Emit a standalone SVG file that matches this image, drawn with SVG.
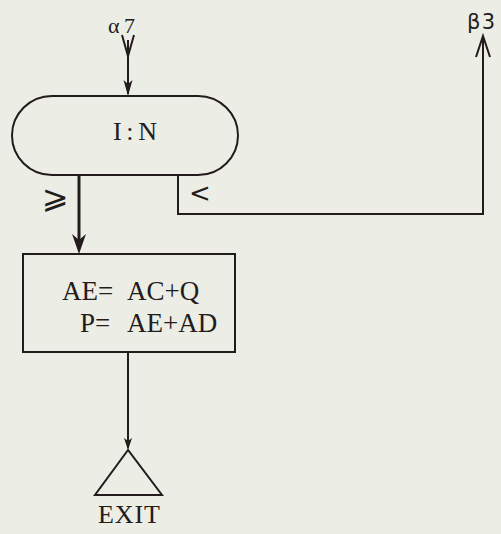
<svg xmlns="http://www.w3.org/2000/svg" width="501" height="534" viewBox="0 0 501 534">
<defs>
<style>
.ln{fill:none;stroke:#231c1c;stroke-width:2;stroke-linejoin:miter}
.ah{fill:#231c1c;stroke:none}
.t{font-family:"Liberation Serif","DejaVu Serif",serif;fill:#231c1c}
.h{font-family:"DejaVu Sans","Liberation Sans",sans-serif;fill:#231c1c}
</style>
</defs>
<rect x="0" y="0" width="501" height="534" fill="#ecede5"/>
<g id="connectors">
<path class="ln" d="M128,40 V94"/>
<path class="ln" d="M122,35 L128,56 L134,35"/>
<path class="ah" d="M123.5,80 L128,96 L132.5,80 L128,84 Z"/>
<path class="ln" d="M79,175 V240" style="stroke-width:3"/>
<path class="ah" d="M72,234 L79,254 L86,234 L79,240 Z"/>
<path class="ln" d="M178,175 V214 H483 V38"/>
<path class="ln" d="M476,57 L483,36 L490,57"/>
<path class="ln" d="M128,352 V448"/>
<path class="ah" d="M124,438 L128,450 L132,438 L128,441 Z"/>
</g>
<g id="entry-label">
<text class="t" x="108" y="33" font-size="22" textLength="27" lengthAdjust="spacing">α7</text>
</g>
<g id="exit-label">
<text class="h" x="467" y="29" font-size="21" textLength="28" lengthAdjust="spacing">β3</text>
</g>
<g id="decision">
<rect class="ln" x="12" y="96" width="226" height="79" rx="40" ry="39.5"/>
<text class="t" x="113" y="140" font-size="26" textLength="44" lengthAdjust="spacing">I:N</text>
</g>
<g id="cond-ge">
<text class="h" x="42" y="208" font-size="32">⩾</text>
</g>
<g id="cond-lt">
<text class="h" x="189" y="202" font-size="26">&lt;</text>
</g>
<g id="process">
<rect class="ln" x="23" y="254" width="212" height="98"/>
<text class="t" font-size="27"><tspan x="62" y="300">AE=</tspan><tspan x="127" y="300">AC+Q</tspan></text>
<text class="t" font-size="27"><tspan x="80" y="332">P=</tspan><tspan x="127" y="332">AE+AD</tspan></text>
</g>
<g id="exit">
<path class="ln" d="M128,450 L95,495 H162 Z"/>
<text class="t" x="98" y="523" font-size="26" textLength="62" lengthAdjust="spacing">EXIT</text>
</g>
</svg>
